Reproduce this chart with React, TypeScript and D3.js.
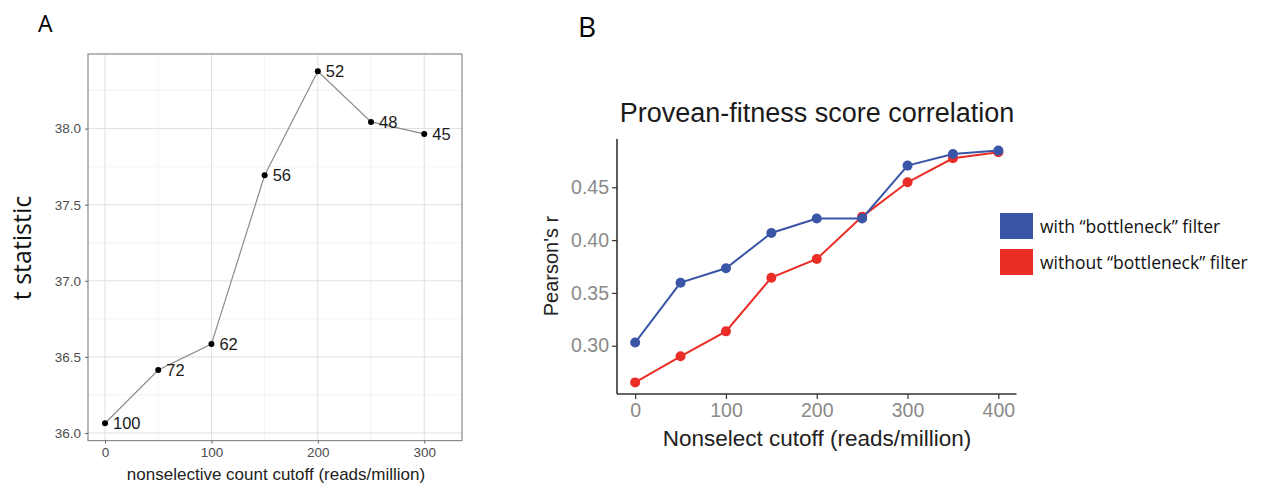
import React, { useEffect, useRef } from 'react';
import * as d3 from 'd3';

// panel A: t statistic vs nonselective cutoff
const cutoffsA = [0, 50, 100, 150, 200, 250, 300];
const tStats = [36.064, 36.414, 36.584, 37.693, 38.377, 38.044, 37.965];
const pointLabels = ['100', '72', '62', '56', '52', '48', '45'];
const yTicksA = [36.0, 36.5, 37.0, 37.5, 38.0];
const xTicksA = [0, 100, 200, 300];

// panel B: Pearson's r
const cutoffsB = [0, 50, 100, 150, 200, 250, 300, 350, 400];
const withFilter = [0.303, 0.3597, 0.3733, 0.4067, 0.4205, 0.4205, 0.4705, 0.4815, 0.4847];
const withoutFilter = [0.2653, 0.29, 0.3136, 0.3644, 0.3821, 0.4222, 0.4547, 0.4774, 0.4831];
const yTicksB = [0.30, 0.35, 0.40, 0.45];
const xTicksB = [0, 100, 200, 300, 400];
const seriesNames = ['with \u201cbottleneck\u201d filter', 'without \u201cbottleneck\u201d filter'];
const seriesColors = ['#3a55a6', '#ea2e27'];

const W = 1264;
const H = 483;

const App = () => {
    const svgRef = useRef(null);

    useEffect(() => {
        const svg = d3.select(svgRef.current);
        svg.selectAll('*').remove();

        drawPanelA();
        drawPanelB();

        function drawPanelA() {
            const x = d3.scaleLinear().domain([-16, 335.5]).range([88, 462]);
            const y = d3.scaleLinear().domain([35.95, 38.49]).range([440.6, 54]);
            const g = svg.append('g');

            g.append('text').attr('x', 38).attr('y', 32)
                .style('font-family', 'Open Sans').style('font-size', 23).text('A');

            // minor grid
            const minorX = [50, 150, 250];
            const minorY = [36.25, 36.75, 37.25, 37.75, 38.25];
            g.selectAll('.minx').data(minorX).enter().append('line')
                .attr('x1', (d) => x(d)).attr('x2', (d) => x(d))
                .attr('y1', 54).attr('y2', 440.6)
                .attr('stroke', '#f0f0f0').attr('stroke-width', 0.8);
            g.selectAll('.miny').data(minorY).enter().append('line')
                .attr('x1', 88).attr('x2', 462)
                .attr('y1', (d) => y(d)).attr('y2', (d) => y(d))
                .attr('stroke', '#f0f0f0').attr('stroke-width', 0.8);
            // major grid
            g.selectAll('.majx').data(xTicksA).enter().append('line')
                .attr('x1', (d) => x(d)).attr('x2', (d) => x(d))
                .attr('y1', 54).attr('y2', 440.6)
                .attr('stroke', '#e0e0e0').attr('stroke-width', 1);
            g.selectAll('.majy').data(yTicksA).enter().append('line')
                .attr('x1', 88).attr('x2', 462)
                .attr('y1', (d) => y(d)).attr('y2', (d) => y(d))
                .attr('stroke', '#e0e0e0').attr('stroke-width', 1);

            g.append('rect').attr('x', 88).attr('y', 54)
                .attr('width', 374).attr('height', 386.6)
                .attr('fill', 'none').attr('stroke', '#8a8a8a').attr('stroke-width', 1.2);

            // axes
            const yAxis = g.append('g').attr('transform', 'translate(88,0)')
                .call(d3.axisLeft(y).tickValues(yTicksA).tickFormat(d3.format('.1f')).tickSize(3).tickPadding(4));
            const xAxis = g.append('g').attr('transform', 'translate(0,440.6)')
                .call(d3.axisBottom(x).tickValues(xTicksA).tickSize(3).tickPadding(4));
            [yAxis, xAxis].forEach((a) => {
                a.select('.domain').remove();
                a.selectAll('line').attr('stroke', '#666');
                a.selectAll('text').attr('fill', '#4d4d4d')
                    .style('font-family', 'Liberation Sans, Arial').style('font-size', 13.5);
            });

            g.append('text').attr('x', 276).attr('y', 480).attr('text-anchor', 'middle')
                .style('font-family', 'Liberation Sans, Arial').style('font-size', 17)
                .attr('fill', '#222').text('nonselective count cutoff (reads/million)');
            g.append('text').attr('transform', 'translate(31,248) rotate(-90)')
                .attr('text-anchor', 'middle')
                .style('font-family', 'Open Sans').style('font-size', 25)
                .attr('fill', '#111').text('t statistic');

            const pts = cutoffsA.map((c, i) => [c, tStats[i], pointLabels[i]]);
            const line = d3.line().x((d) => x(d[0])).y((d) => y(d[1]));
            g.append('path').datum(pts).attr('d', line)
                .attr('fill', 'none').attr('stroke', '#8c8c8c').attr('stroke-width', 1.2);
            g.selectAll('.pt').data(pts).enter().append('circle')
                .attr('cx', (d) => x(d[0])).attr('cy', (d) => y(d[1]))
                .attr('r', 3).attr('fill', '#000');
            g.selectAll('.lab').data(pts).enter().append('text')
                .attr('x', (d) => x(d[0]) + 8).attr('y', (d) => y(d[1]))
                .attr('dy', '0.36em')
                .style('font-family', 'Liberation Sans, Arial').style('font-size', 16.5)
                .attr('fill', '#1a1a1a').text((d) => d[2]);
        }

        function drawPanelB() {
            const x = d3.scaleLinear().domain([-20, 420]).range([617, 1016.5]);
            const y = d3.scaleLinear().domain([0.2543, 0.4957]).range([394, 139]);
            const g = svg.append('g');

            g.append('text').attr('x', 578).attr('y', 37)
                .style('font-family', 'Open Sans').style('font-size', 28).text('B');

            g.append('text').attr('x', 817).attr('y', 122).attr('text-anchor', 'middle')
                .style('font-family', 'Liberation Sans, Arial').style('font-size', 27)
                .attr('fill', '#1a1a1a').text('Provean-fitness score correlation');

            const yAxis = g.append('g').attr('transform', 'translate(617,0)')
                .call(d3.axisLeft(y).tickValues(yTicksB).tickFormat(d3.format('.2f')).tickSize(5).tickPadding(3));
            const xAxis = g.append('g').attr('transform', 'translate(0,394)')
                .call(d3.axisBottom(x).tickValues(xTicksB).tickSize(5).tickPadding(4));
            [yAxis, xAxis].forEach((a) => {
                a.select('.domain').attr('stroke', '#333').attr('stroke-width', 1.6);
                a.selectAll('line').attr('stroke', '#333').attr('stroke-width', 1.2);
                a.selectAll('text').attr('fill', '#8a8a8a')
                    .style('font-family', 'Liberation Sans, Arial').style('font-size', 19.5);
            });
            yAxis.select('.domain').attr('d', 'M0,139V394');
            xAxis.select('.domain').attr('d', 'M617,0H1016.5');

            g.append('text').attr('x', 817).attr('y', 446).attr('text-anchor', 'middle')
                .style('font-family', 'Liberation Sans, Arial').style('font-size', 22.5)
                .attr('fill', '#222').text('Nonselect cutoff (reads/million)');
            g.append('text').attr('transform', 'translate(558,266) rotate(-90)')
                .attr('text-anchor', 'middle')
                .style('font-family', 'Liberation Sans, Arial').style('font-size', 20)
                .attr('fill', '#222').text("Pearson's r");

            const series = [withFilter, withoutFilter];
            const line = d3.line().x((d) => x(d[0])).y((d) => y(d[1]));
            // draw red first so blue sits on top
            [1, 0].forEach((s) => {
                const pts = cutoffsB.map((c, i) => [c, series[s][i]]);
                g.append('path').datum(pts).attr('d', line)
                    .attr('fill', 'none').attr('stroke', seriesColors[s]).attr('stroke-width', 2);
                g.selectAll('.p' + s).data(pts).enter().append('circle')
                    .attr('cx', (d) => x(d[0])).attr('cy', (d) => y(d[1]))
                    .attr('r', 5).attr('fill', seriesColors[s]);
            });

            // legend
            const leg = g.selectAll('.leg').data(seriesNames).enter().append('g')
                .attr('transform', (d, i) => 'translate(1000,' + (213 + i * 36) + ')');
            leg.append('rect').attr('width', 33).attr('height', 26)
                .attr('fill', (d, i) => seriesColors[i]);
            leg.append('text').attr('x', 40).attr('y', 20)
                .style('font-family', 'Open Sans').style('font-size', 17.5)
                .attr('fill', '#111').text((d) => d);
        }
    }, []);

    return <svg ref={svgRef} width={W} height={H}
                style={{position: 'absolute', left: 0, top: 0, background: '#fff'}}/>;
};

export default App;
